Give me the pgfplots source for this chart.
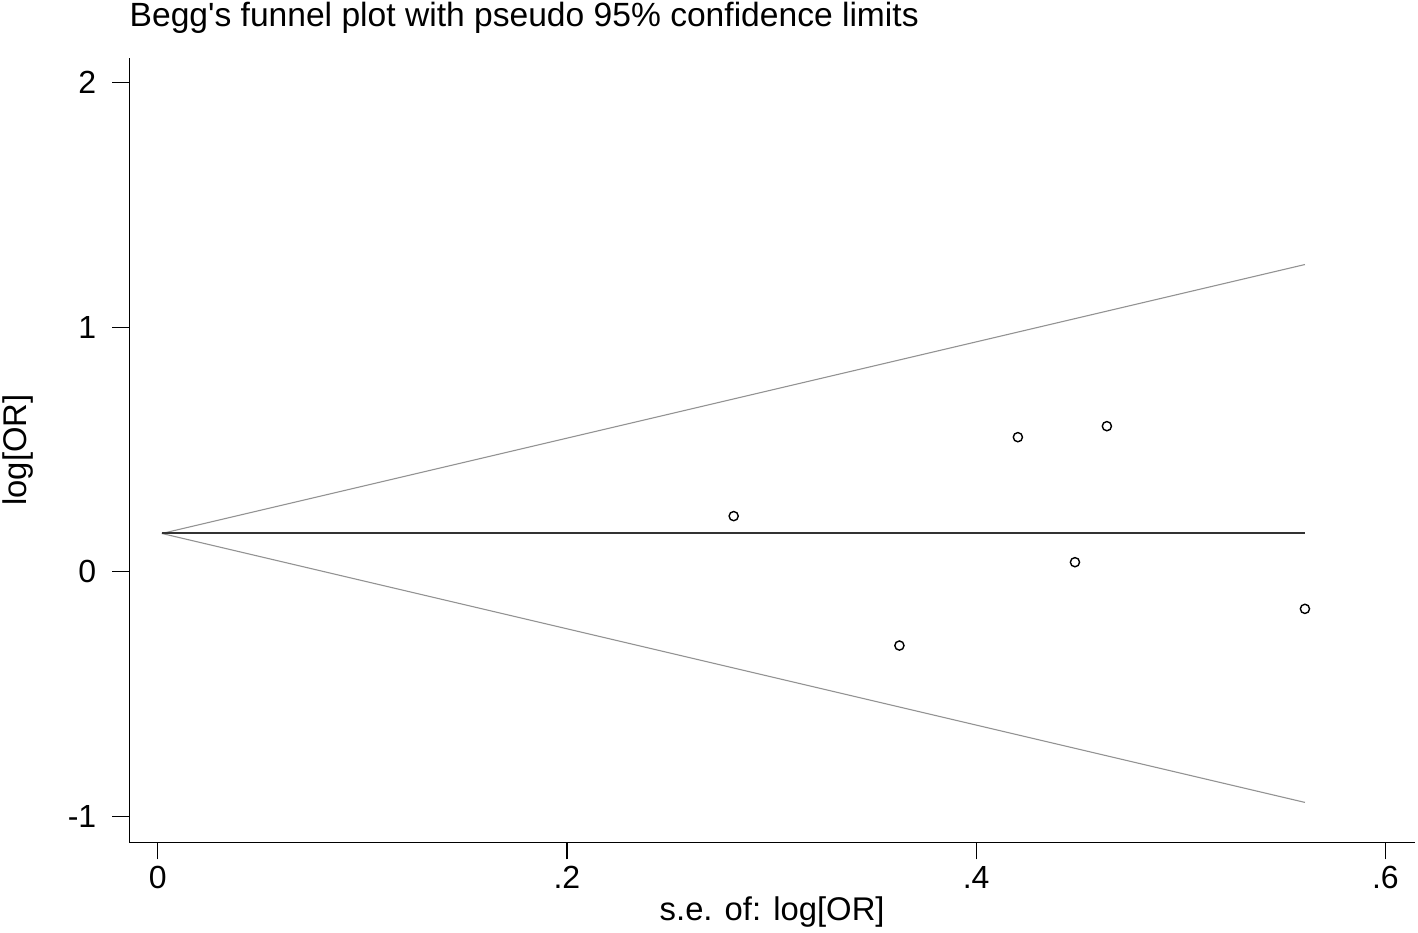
\documentclass[border=0pt]{standalone}
\usepackage{pgfplots}
\pgfplotsset{compat=1.18}
\usepackage{fontspec}
\setmainfont{Liberation Sans}
\newfontfamily\plainfont{Liberation Sans}
\begin{document}
\begin{tikzpicture}[x=0.5pt,y=0.5pt]
\useasboundingbox (0,0) rectangle (1418,932);
\begin{axis}[
  at={(129.3pt*0.5,89.7pt*0.5)}, anchor=south west,
  scale only axis,
  width=642.85pt, height=392.15pt,
  xmin=-0.0139, xmax=0.6145,
  ymin=-1.105, ymax=2.10,
  axis lines*=left,
  axis line style={line width=0.6pt, black},
  xtick={0,0.2,0.4,0.6}, xticklabels={0,.2,.4,.6},
  ytick={-1,0,1,2},
  tick align=outside,
  major tick length=8.5pt,
  tick style={line width=0.6pt, black},
  every tick label/.style={font=\fontsize{16}{18}\selectfont},
  /pgf/number format/assume math mode=true,
  yticklabel style={xshift=-4.5pt},
  xlabel={s.e. of: log[OR]},
  ylabel={log[OR]},
  label style={font=\fontsize{16.4}{19}\selectfont},
  xlabel style={at={(rel axis cs:0.5,0)}, anchor=base, yshift=-38.85pt},
  ylabel style={at={([xshift=-55.65pt]rel axis cs:0,0.5)}, anchor=center},
  clip=false,
]
\addplot[gray!85, line width=0.55pt] coordinates {(0.002,0.157) (0.5607,1.256)};
\addplot[gray!85, line width=0.55pt] coordinates {(0.002,0.157) (0.5607,-0.942)};
\addplot[black!80, line width=1pt] coordinates {(0.002,0.157) (0.5607,0.157)};
\addplot[only marks, mark=o, mark size=2.3pt, mark options={line width=0.7pt, black}] coordinates {
(0.2815,0.228)
(0.3625,-0.301)
(0.4204,0.5505)
(0.4483,0.0396)
(0.4639,0.5955)
(0.5607,-0.151)
};
\node[anchor=base west, font=\fontsize{16.8}{19}\selectfont\plainfont, inner sep=0pt] at ([yshift=15.5pt]rel axis cs:0,1) {Begg's funnel plot with pseudo 95\% confidence limits};
\end{axis}
\end{tikzpicture}
\end{document}
